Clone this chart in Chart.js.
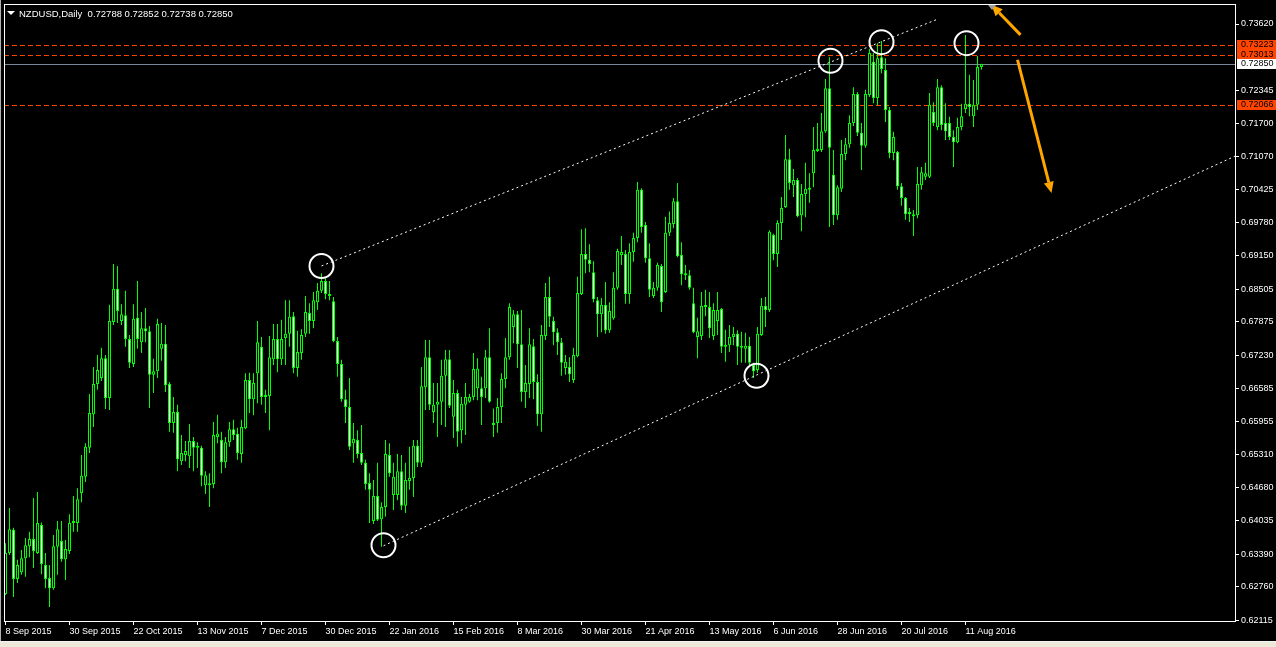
<!DOCTYPE html>
<html>
<head>
<meta charset="utf-8">
<script src="https://cdn.jsdelivr.net/npm/chart.js@4.4.0/dist/chart.umd.min.js"></script>
<style>
  html, body { margin: 0; padding: 0; background: #ece9d8; overflow: hidden; }
  #wrap { width: 1276px; height: 641px; background: #000; border-bottom: 1px solid #f4f4f4; }
  canvas { display: block; }
</style>
</head>
<body>
<div id="wrap"><canvas id="chart" width="1276" height="641"></canvas></div>
<script>
// NZDUSD daily candles, 8 Sep 2015 .. 17 Aug 2016
const symbol = "NZDUSD";
const period = "Daily";

const open = [
  .6262,.6341,.6386,.6291,.6304,.6331,.6354,.6368,.6341,.6395,
  .6318,.6293,.6273,.6353,.6364,.6329,.6345,.6399,.6399,.6457,
  .6488,.6544,.6609,.6667,.6679,.6717,.6640,.6787,.6851,.6789,
  .6800,.6754,.6706,.6795,.6748,.6775,.6769,.6685,.6692,.6735,
  .6745,.6667,.6592,.6613,.6518,.6530,.6528,.6557,.6546,.6544,
  .6472,.6472,.6474,.6565,.6559,.6516,.6555,.6580,.6571,.6532,
  .6582,.6675,.6638,.6688,.6739,.6646,.6644,.6715,.6754,.6715,
  .6756,.6764,.6798,.6698,.6727,.6764,.6804,.6789,.6825,.6847,
  .6866,.6837,.6827,.6750,.6706,.6638,.6623,.6553,.6559,.6534,
  .6515,.6476,.6403,.6451,.6406,.6430,.6530,.6453,.6453,.6499,
  .6432,.6480,.6486,.6548,.6515,.6661,.6719,.6613,.6627,.6633,
  .6683,.6715,.6604,.6650,.6578,.6627,.6633,.6642,.6659,.6659,
  .6659,.6719,.6588,.6592,.6623,.6677,.6719,.6777,.6802,.6744,
  .6652,.6667,.6740,.6671,.6609,.6760,.6835,.6789,.6767,.6748,
  .6698,.6700,.6675,.6721,.6841,.6918,.6907,.6883,.6829,.6802,
  .6820,.6771,.6794,.6853,.6916,.6918,.6841,.6922,.6949,.7042,
  .6974,.6910,.6837,.6853,.6895,.6845,.6959,.6976,.7020,.6916,
  .6881,.6877,.6823,.6758,.6760,.6820,.6816,.6760,.6789,.6812,
  .6742,.6742,.6758,.6764,.6741,.6735,.6741,.6704,.6694,.6762,
  .6818,.6810,.6955,.6918,.6978,.7009,.7101,.7051,.7061,.6993,
  .7034,.7042,.7074,.7117,.7119,.7155,.7238,.7071,.6993,.7044,
  .7111,.7130,.7171,.7227,.7152,.7127,.7225,.7289,.7219,.7298,
  .7273,.7196,.7113,.7115,.7049,.7026,.6999,.6995,.6993,.7051,
  .7067,.7067,.7192,.7163,.7240,.7171,.7171,.7144,.7134,.7163,
  .7198,.7208,.7184,.7206,.72788
];

const high = [
  .6360,.6428,.6390,.6328,.6347,.6370,.6382,.6447,.6459,.6400,
  .6341,.6318,.6376,.6403,.6403,.6366,.6416,.6451,.6466,.6530,
  .6553,.6648,.6700,.6723,.6737,.6723,.6820,.6899,.6895,.6821,
  .6847,.6762,.6821,.6866,.6806,.6814,.6779,.6716,.6793,.6785,
  .6781,.6671,.6642,.6627,.6569,.6557,.6590,.6565,.6555,.6548,
  .6499,.6495,.6594,.6608,.6575,.6565,.6594,.6598,.6583,.6598,
  .6688,.6689,.6688,.6789,.6758,.6656,.6760,.6783,.6783,.6791,
  .6829,.6829,.6806,.6770,.6773,.6837,.6823,.6845,.6862,.6881,
  .6872,.6866,.6835,.6758,.6714,.6656,.6679,.6592,.6578,.6588,
  .6521,.6495,.6482,.6515,.6439,.6559,.6553,.6515,.6532,.6530,
  .6515,.6546,.6559,.6559,.6700,.6752,.6752,.6669,.6669,.6714,
  .6733,.6733,.6675,.6656,.6642,.6669,.6648,.6727,.6717,.6681,
  .6733,.6775,.6620,.6640,.6688,.6756,.6823,.6810,.6808,.6810,
  .6704,.6775,.6754,.6686,.6781,.6862,.6874,.6797,.6775,.6756,
  .6723,.6719,.6737,.6874,.6966,.6968,.6937,.6904,.6835,.6833,
  .6864,.6825,.6883,.6928,.6953,.6926,.6939,.6959,.7057,.7045,
  .6980,.6939,.6864,.6901,.6899,.6990,.7000,.7026,.7055,.6941,
  .6897,.6887,.6853,.6795,.6845,.6849,.6845,.6823,.6845,.6814,
  .6772,.6781,.6777,.6771,.6768,.6766,.6758,.6708,.6777,.6833,
  .6835,.6964,.6957,.6983,.7028,.7148,.7121,.7082,.7065,.7053,
  .7094,.7074,.7163,.7171,.7190,.7256,.7298,.7119,.7051,.7138,
  .7142,.7186,.7240,.7231,.7171,.7235,.7314,.7306,.7325,.7329,
  .7296,.7202,.7154,.7117,.7055,.7028,.7007,.7003,.7086,.7086,
  .7094,.7229,.7211,.7256,.7244,.7209,.7183,.7157,.7181,.7208,
  .7341,.7264,.7254,.7300,.72852
];

const low = [
  .6260,.6337,.6256,.6283,.6299,.6295,.6333,.6312,.6339,.6300,
  .6273,.6237,.6270,.6299,.6324,.6289,.6339,.6382,.6382,.6439,
  .6478,.6534,.6584,.6656,.6673,.6619,.6617,.6781,.6785,.6781,
  .6739,.6698,.6700,.6735,.6727,.6748,.6621,.6650,.6679,.6712,
  .6652,.6575,.6573,.6499,.6511,.6518,.6505,.6499,.6505,.6470,
  .6455,.6430,.6466,.6553,.6495,.6505,.6546,.6559,.6521,.6515,
  .6580,.6611,.6607,.6630,.6627,.6611,.6578,.6704,.6690,.6704,
  .6704,.6739,.6688,.6681,.6714,.6758,.6764,.6775,.6810,.6843,
  .6831,.6829,.6748,.6681,.6633,.6592,.6540,.6515,.6524,.6511,
  .6463,.6399,.6397,.6403,.6353,.6411,.6488,.6424,.6443,.6424,
  .6418,.6463,.6449,.6507,.6507,.6617,.6617,.6592,.6565,.6588,
  .6584,.6621,.6563,.6546,.6553,.6569,.6631,.6636,.6636,.6588,
  .6640,.6631,.6565,.6573,.6592,.6659,.6714,.6746,.6698,.6633,
  .6621,.6640,.6638,.6586,.6575,.6752,.6777,.6742,.6723,.6683,
  .6685,.6671,.6669,.6719,.6839,.6881,.6883,.6825,.6758,.6767,
  .6764,.6766,.6791,.6849,.6897,.6822,.6822,.6903,.6941,.6959,
  .6901,.6835,.6833,.6847,.6806,.6843,.6953,.6968,.6912,.6858,
  .6868,.6849,.6765,.6717,.6752,.6798,.6756,.6752,.6762,.6727,
  .6710,.6729,.6742,.6704,.6708,.6708,.6700,.6679,.6689,.6760,
  .6777,.6806,.6906,.6893,.6945,.7007,.7042,.7028,.6989,.6962,
  .6989,.7017,.7047,.7115,.7115,.7152,.6970,.6974,.6984,.7038,
  .7099,.7123,.7165,.7146,.7080,.7123,.7221,.7209,.7205,.7267,
  .7173,.7103,.7099,.7042,.7011,.6984,.6980,.6953,.6987,.7042,
  .7061,.7065,.7165,.7157,.7157,.7138,.7138,.7086,.7132,.7157,
  .7190,.7184,.7163,.7196,.72738
];

const close = [
  .6341,.6387,.6291,.6318,.6331,.6356,.6368,.6345,.6399,.6320,
  .6291,.6273,.6354,.6387,.6329,.6349,.6399,.6401,.6445,.6490,
  .6546,.6611,.6667,.6694,.6717,.6640,.6789,.6851,.6808,.6802,
  .6754,.6708,.6793,.6754,.6775,.6769,.6685,.6692,.6783,.6745,
  .6665,.6592,.6613,.6522,.6534,.6538,.6557,.6544,.6544,.6490,
  .6491,.6475,.6569,.6571,.6516,.6555,.6580,.6569,.6534,.6584,
  .6675,.6638,.6669,.6748,.6642,.6642,.6719,.6754,.6715,.6754,
  .6764,.6797,.6698,.6729,.6762,.6806,.6789,.6829,.6847,.6866,
  .6841,.6841,.6750,.6706,.6638,.6623,.6546,.6561,.6532,.6515,
  .6474,.6463,.6451,.6405,.6430,.6532,.6495,.6488,.6499,.6432,
  .6482,.6486,.6548,.6515,.6663,.6719,.6627,.6627,.6633,.6683,
  .6715,.6625,.6650,.6575,.6629,.6642,.6642,.6696,.6697,.6642,
  .6719,.6633,.6592,.6623,.6677,.6719,.6816,.6802,.6744,.6652,
  .6669,.6744,.6671,.6609,.6762,.6835,.6797,.6767,.6748,.6708,
  .6710,.6686,.6723,.6843,.6918,.6907,.6899,.6831,.6802,.6820,
  .6771,.6808,.6853,.6924,.6922,.6841,.6922,.6949,.7042,.6970,
  .6910,.6849,.6853,.6897,.6825,.6959,.6978,.7020,.6914,.6879,
  .6877,.6853,.6767,.6769,.6818,.6816,.6775,.6810,.6810,.6739,
  .6739,.6758,.6764,.6739,.6737,.6741,.6708,.6692,.6764,.6818,
  .6810,.6961,.6918,.6978,.7007,.7101,.7055,.7061,.6991,.7034,
  .7044,.7046,.7119,.7121,.7155,.7238,.7123,.6993,.7047,.7111,
  .7130,.7171,.7227,.7152,.7127,.7227,.7306,.7219,.7296,.7275,
  .7196,.7113,.7144,.7049,.7026,.6995,.6995,.6991,.7053,.7076,
  .7074,.7206,.7171,.7240,.7167,.7155,.7144,.7134,.7163,.7184,
  .7208,.7202,.7206,.7279,.72850
];

// one date label every 16 bars
const dateLabels = ["8 Sep 2015", "30 Sep 2015", "22 Oct 2015", "13 Nov 2015", "7 Dec 2015",
  "30 Dec 2015", "22 Jan 2016", "15 Feb 2016", "8 Mar 2016", "30 Mar 2016", "21 Apr 2016",
  "13 May 2016", "6 Jun 2016", "28 Jun 2016", "20 Jul 2016", "11 Aug 2016"];
const dateStep = 16;

const priceTicks = [0.73620, 0.72345, 0.71700, 0.71070, 0.70425, 0.69780, 0.69150, 0.68505,
  0.67875, 0.67230, 0.66585, 0.65955, 0.65310, 0.64680, 0.64035, 0.63390, 0.62760, 0.62115];

// horizontal levels and current bid
const redLevels = [0.73223, 0.73013, 0.72066];
const bidPrice = 0.72850;

// channel lines [barIndex, price]
const upperChannel = [[79, 0.6895], [233.25, 0.7372]];
const lowerChannel = [[94.5, 0.6355], [307.4, 0.7107]];

// ellipse marks on touches [barIndex, price]
const touches = [[79, 0.6895], [94.5, 0.6356], [187.75, 0.6683], [206.25, 0.7291], [219, 0.7327], [240.25, 0.7325]];

// orange arrows [fromIndex, fromPrice, toIndex, toPrice]
const arrows = [[253.75, 0.7341, 246.5, 0.7399], [253, 0.7293, 261.5, 0.7036]];

const LIME = "#00ff00";
const FONT = { family: "'Liberation Sans', Arial, sans-serif", size: 9 };

const idx = open.map((_, i) => i);
const bodies = idx.map(i => ({ x: i, y: [open[i], close[i]] }));
const wicks = idx.map(i => ({ x: i, y: [low[i], high[i]] }));
const bodyFill = idx.map(i => (close[i] >= open[i] ? "#000000" : "#ffffff"));
const toXY = p => ({ x: p[0], y: p[1] });

// 4 px per bar, 1231 px of plot width
const xMin = -0.375;
const xMax = xMin + 1231 / 4;

const overlay = {
  id: "overlay",
  beforeDatasetsDraw(chart) {
    const { ctx, chartArea: a, scales: { y } } = chart;
    ctx.save();
    // dashed levels as solid pixel runs, 5 on / 3 off
    ctx.fillStyle = "#ff4500";
    redLevels.forEach(v => {
      const py = Math.round(y.getPixelForValue(v));
      for (let px = a.left; px < a.right; px += 8) {
        ctx.fillRect(px, py, Math.min(5, a.right - px), 1);
      }
    });
    ctx.fillStyle = "#778899";
    ctx.fillRect(a.left, Math.round(y.getPixelForValue(bidPrice)), a.right - a.left, 1);
    ctx.restore();
  },
  afterDraw(chart) {
    const { ctx, chartArea: a, scales: { x, y } } = chart;
    ctx.save();

    // window edge and frame
    ctx.fillStyle = "#b0b0b0";
    ctx.fillRect(0, 0, 1, chart.height);
    ctx.strokeStyle = "#ffffff";
    ctx.lineWidth = 1;
    ctx.strokeRect(a.left + 0.5, a.top + 0.5, a.right - a.left, a.bottom - a.top);

    // price labels on the axis
    ctx.font = FONT.size + "px " + FONT.family;
    ctx.textBaseline = "middle";
    ctx.textAlign = "left";
    const tag = (v, bg) => {
      const py = Math.round(y.getPixelForValue(v));
      ctx.fillStyle = bg;
      ctx.fillRect(a.right + 2, py - 5, chart.width - a.right - 2, 10);
      ctx.fillStyle = "#000000";
      ctx.fillText(v.toFixed(5), a.right + 6, py);
    };
    redLevels.forEach(v => tag(v, "#ff4500"));
    tag(bidPrice, "#ffffff");

    // arrows
    ctx.strokeStyle = "#ffa500";
    ctx.fillStyle = "#ffa500";
    ctx.lineWidth = 3;
    arrows.forEach(([i0, p0, i1, p1]) => {
      const x0 = x.getPixelForValue(i0), y0 = y.getPixelForValue(p0);
      const x1 = x.getPixelForValue(i1), y1 = y.getPixelForValue(p1);
      const ang = Math.atan2(y1 - y0, x1 - x0);
      const hl = 11, hw = 5;
      const bx = x1 - hl * Math.cos(ang), byy = y1 - hl * Math.sin(ang);
      ctx.beginPath();
      ctx.moveTo(x0, y0);
      ctx.lineTo(bx, byy);
      ctx.stroke();
      ctx.beginPath();
      ctx.moveTo(x1, y1);
      ctx.lineTo(bx + hw * Math.sin(ang), byy - hw * Math.cos(ang));
      ctx.lineTo(bx - hw * Math.sin(ang), byy + hw * Math.cos(ang));
      ctx.closePath();
      ctx.fill();
    });

    // chart shift marker
    const sx = Math.round(x.getPixelForValue(open.length + 1.5));
    ctx.fillStyle = "#a0a0a0";
    ctx.beginPath();
    ctx.moveTo(sx - 4, a.top + 1);
    ctx.lineTo(sx + 4, a.top + 1);
    ctx.lineTo(sx, a.top + 6);
    ctx.closePath();
    ctx.fill();

    // header
    const n = open.length - 1;
    ctx.fillStyle = "#ffffff";
    ctx.beginPath();
    ctx.moveTo(7, 11);
    ctx.lineTo(15, 11);
    ctx.lineTo(11, 15);
    ctx.closePath();
    ctx.fill();
    ctx.font = "9.5px " + FONT.family;
    ctx.textBaseline = "alphabetic";
    const vals = [open[n], high[n], low[n], close[n]].map(v => v.toFixed(5)).join(" ");
    ctx.fillText(symbol + "," + period + "  " + vals, 19, 17);

    ctx.restore();
  }
};

const ctx = document.getElementById("chart").getContext("2d");
new Chart(ctx, {
  type: "bar",
  data: {
    datasets: [
      {
        type: "scatter",
        data: touches.map(toXY),
        pointRadius: 12,
        pointHoverRadius: 12,
        pointBorderWidth: 2,
        pointBorderColor: "#ffffff",
        pointBackgroundColor: "rgba(0,0,0,0)",
        order: 0
      },
      {
        type: "line",
        data: upperChannel.map(toXY),
        borderColor: "#ffffff",
        borderWidth: 1,
        borderDash: [2, 3],
        pointRadius: 0,
        order: 1
      },
      {
        type: "line",
        data: lowerChannel.map(toXY),
        borderColor: "#ffffff",
        borderWidth: 1,
        borderDash: [2, 3],
        pointRadius: 0,
        order: 1
      },
      {
        data: bodies,
        backgroundColor: bodyFill,
        borderColor: LIME,
        borderWidth: 1,
        borderSkipped: false,
        barThickness: 3,
        minBarLength: 2,
        grouped: false,
        inflateAmount: 0,
        order: 2
      },
      {
        data: wicks,
        backgroundColor: LIME,
        borderWidth: 0,
        barThickness: 1,
        grouped: false,
        inflateAmount: 0,
        order: 3
      }
    ]
  },
  options: {
    responsive: false,
    animation: false,
    events: [],
    layout: { autoPadding: false, padding: { top: 4, left: 4, right: 0, bottom: 0 } },
    plugins: { legend: { display: false }, tooltip: { enabled: false } },
    scales: {
      x: {
        type: "linear",
        offset: false,
        min: xMin,
        max: xMax,
        afterFit: s => { s.height = 20; s.paddingLeft = 0; s.paddingRight = 0; },
        afterBuildTicks: s => { s.ticks = dateLabels.map((_, k) => ({ value: k * dateStep })); },
        grid: { offset: false, drawOnChartArea: false, drawTicks: true, tickLength: 4, color: "#ffffff" },
        border: { display: false },
        ticks: {
          color: "#ffffff",
          font: FONT,
          align: "start",
          padding: 1,
          maxRotation: 0,
          autoSkip: false,
          callback: v => dateLabels[Math.round(v / dateStep)]
        }
      },
      y: {
        type: "linear",
        position: "right",
        min: 0.62098,
        max: 0.74006,
        afterFit: s => { s.width = 41; s.paddingTop = 0; s.paddingBottom = 0; },
        afterBuildTicks: s => { s.ticks = priceTicks.map(v => ({ value: v })); },
        grid: { drawOnChartArea: false, drawTicks: true, tickLength: 4, color: "#ffffff" },
        border: { display: false },
        ticks: { color: "#ffffff", font: FONT, padding: 2, callback: v => v.toFixed(5) }
      }
    }
  },
  plugins: [overlay]
});
</script>
</body>
</html>
